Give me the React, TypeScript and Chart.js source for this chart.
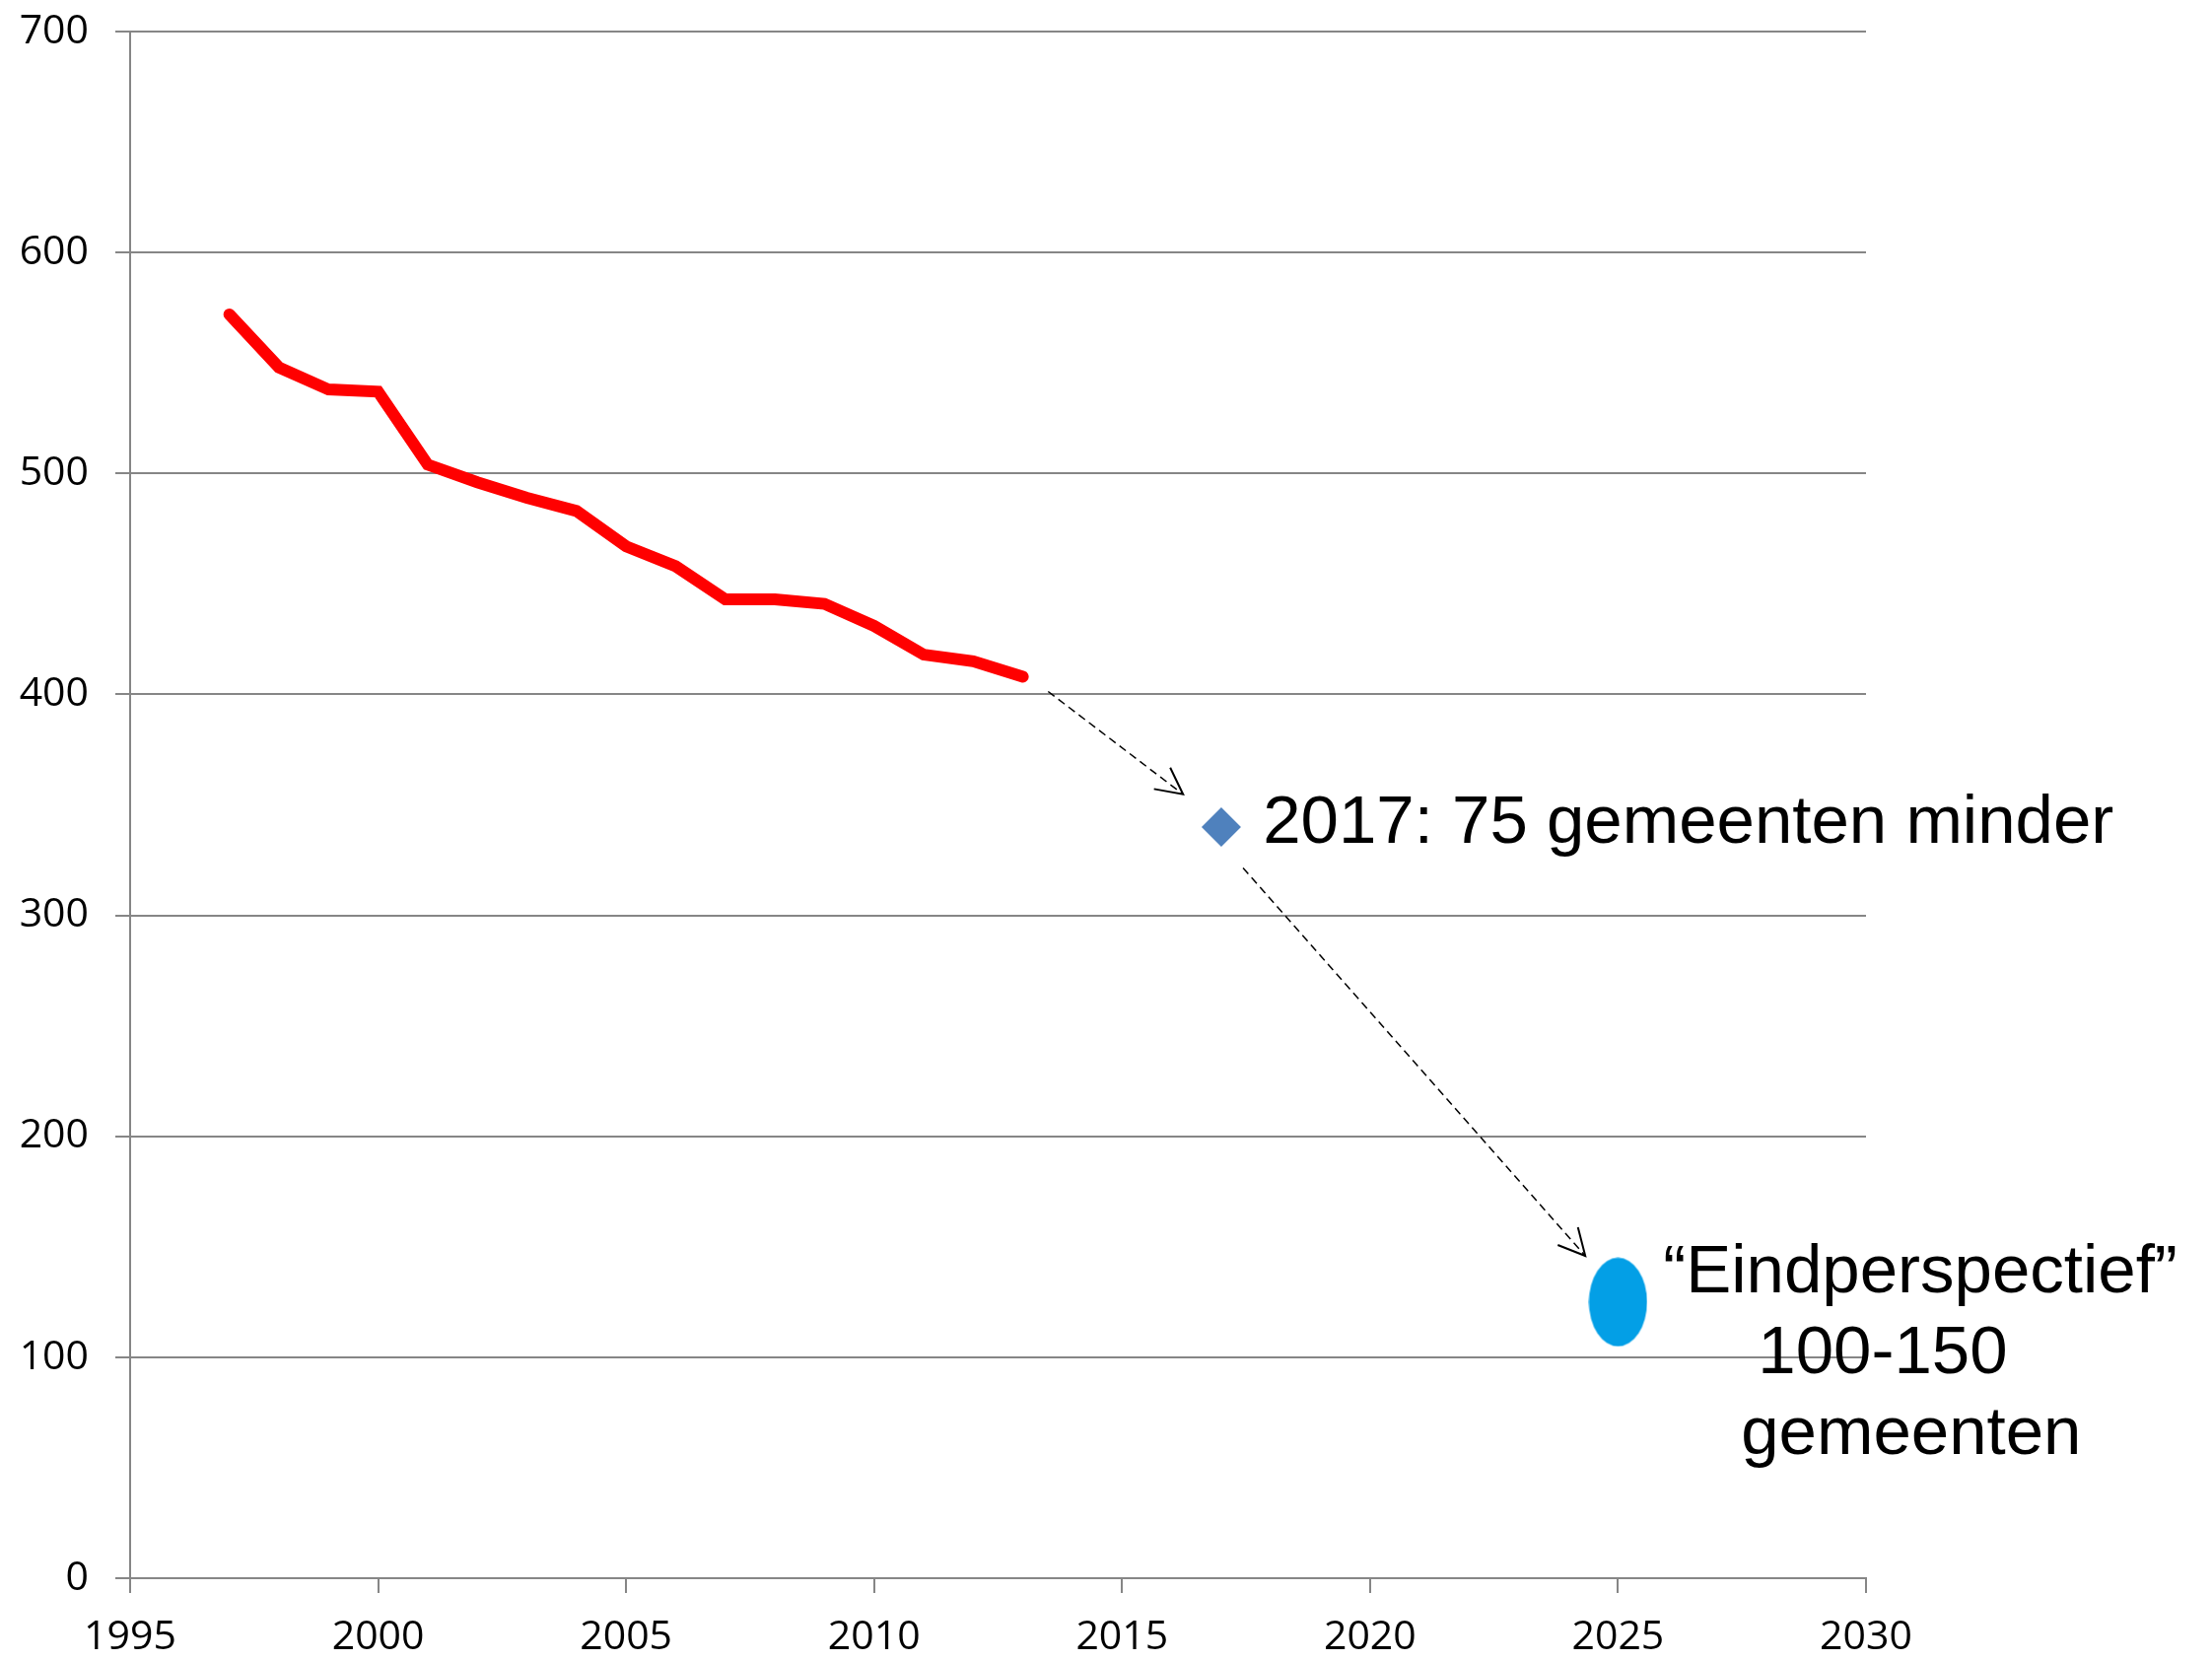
import React, { useEffect, useRef } from "react";
import { Chart, registerables } from "chart.js";

Chart.register(...registerables);

// ---- data ----
const years = [1997, 1998, 1999, 2000, 2001, 2002, 2003, 2004, 2005, 2006, 2007, 2008, 2009, 2010, 2011, 2012, 2013];
const municipalities = [572, 548, 538, 537, 504, 496, 489, 483, 467, 458, 443, 443, 441, 431, 418, 415, 408];
const forecastYears = [2017];
const forecastValues = [340];
const targetYears = [2025];
const targetValues = [125];
const xRange = [1995, 2030];
const yRange = [0, 700];

// annotation anchors in data units (year, value)
const annotationTexts = [
  { text: "2017: 75 gemeenten minder", x: 2017.84, y: 333.0 },
  { text: "\u201CEindperspectief\u201D", x: 2025.91, y: 129.5 },
  { text: "100-150", x: 2027.82, y: 92.9 },
  { text: "gemeenten", x: 2027.48, y: 56.3 },
];
const arrows = [
  { from: [2013.51, 401.3], to: [2016.23, 354.8] },
  { from: [2017.44, 321.4], to: [2024.34, 145.9] },
];

const GRID = "#868686";

function makeEllipse(): HTMLCanvasElement {
  const c = document.createElement("canvas");
  c.width = 60;
  c.height = 91;
  const g = c.getContext("2d")!;
  g.fillStyle = "#039FE6";
  g.beginPath();
  g.ellipse(30, 45.5, 29.5, 45, 0, 0, Math.PI * 2);
  g.fill();
  return c;
}

const annotationPlugin = {
  id: "annotations",
  afterDatasetsDraw(chart: any) {
    const { ctx } = chart;
    const xs = chart.scales.x;
    const ys = chart.scales.y;
    ctx.save();
    ctx.strokeStyle = "#000";
    for (const a of arrows) {
      const x1 = xs.getPixelForValue(a.from[0]);
      const y1 = ys.getPixelForValue(a.from[1]);
      const x2 = xs.getPixelForValue(a.to[0]);
      const y2 = ys.getPixelForValue(a.to[1]);
      ctx.lineWidth = 1.5;
      ctx.setLineDash([8, 5]);
      ctx.beginPath();
      ctx.moveTo(x1, y1);
      ctx.lineTo(x2, y2);
      ctx.stroke();
      ctx.setLineDash([]);
      const ang = Math.atan2(y2 - y1, x2 - x1);
      const len = 30;
      const half = (27 * Math.PI) / 180;
      ctx.lineWidth = 2;
      ctx.beginPath();
      ctx.moveTo(x2 - len * Math.cos(ang - half), y2 - len * Math.sin(ang - half));
      ctx.lineTo(x2, y2);
      ctx.lineTo(x2 - len * Math.cos(ang + half), y2 - len * Math.sin(ang + half));
      ctx.stroke();
    }
    ctx.fillStyle = "#000";
    ctx.font = '69px "Liberation Sans", Arial, sans-serif';
    ctx.textAlign = "left";
    ctx.textBaseline = "alphabetic";
    for (const t of annotationTexts) {
      ctx.fillText(t.text, xs.getPixelForValue(t.x), ys.getPixelForValue(t.y));
    }
    ctx.restore();
  },
};

export default function App() {
  const ref = useRef<HTMLCanvasElement | null>(null);

  useEffect(() => {
    if (!ref.current) return;
    const tickFont = { family: '"Open Sans", sans-serif', size: 41 };
    const chart = new Chart(ref.current, {
      type: "scatter",
      data: {
        datasets: [
          {
            label: "Gemeenten",
            data: years.map((y, i) => ({ x: y, y: municipalities[i] })),
            showLine: true,
            borderColor: "#FF0000",
            backgroundColor: "#FF0000",
            borderWidth: 12,
            borderCapStyle: "round",
            borderJoinStyle: "miter",
            pointRadius: 0,
            pointHoverRadius: 0,
            tension: 0,
          },
          {
            label: "2017",
            data: forecastYears.map((y, i) => ({ x: y, y: forecastValues[i] })),
            showLine: false,
            pointStyle: "rectRot",
            pointRadius: 20,
            backgroundColor: "#4F81BD",
            borderColor: "#4F81BD",
            borderWidth: 0,
          },
          {
            label: "Eindperspectief",
            data: targetYears.map((y, i) => ({ x: y, y: targetValues[i] })),
            showLine: false,
            pointStyle: makeEllipse(),
            pointRadius: 30,
            backgroundColor: "#039FE6",
            borderWidth: 0,
          },
        ],
      },
      options: {
        responsive: false,
        animation: false,
        events: [],
        layout: { padding: { left: 0, top: 32, right: 351, bottom: 0 } },
        plugins: { legend: { display: false }, tooltip: { enabled: false } },
        scales: {
          x: {
            type: "linear",
            min: xRange[0],
            max: xRange[1],
            afterFit: (s: any) => {
              s.height = 84;
              s.paddingLeft = 0;
              s.paddingRight = 0;
            },
            ticks: {
              stepSize: 5,
              font: tickFont,
              color: "#000",
              padding: 21,
              maxRotation: 0,
              callback: (v: any) => String(v),
            },
            grid: {
              display: true,
              drawOnChartArea: false,
              drawTicks: true,
              tickLength: 15,
              color: GRID,
              lineWidth: 2,
            },
            border: { display: true, color: GRID, width: 2 },
          },
          y: {
            type: "linear",
            min: yRange[0],
            max: yRange[1],
            afterFit: (s: any) => {
              s.width = 132;
              s.paddingTop = 0;
              s.paddingBottom = 0;
            },
            ticks: {
              stepSize: 100,
              font: tickFont,
              color: "#000",
              padding: 27,
              callback: (v: any) => String(v),
            },
            grid: {
              display: true,
              drawOnChartArea: true,
              drawTicks: true,
              tickLength: 15,
              color: GRID,
              lineWidth: 2,
            },
            border: { display: true, color: GRID, width: 2 },
          },
        },
      } as any,
      plugins: [annotationPlugin],
    });
    return () => chart.destroy();
  }, []);

  return (
    <div style={{ position: "absolute", left: 0, top: 0, width: 2244, height: 1685, background: "#fff" }}>
      <canvas ref={ref} width={2244} height={1685} style={{ display: "block" }} />
    </div>
  );
}
